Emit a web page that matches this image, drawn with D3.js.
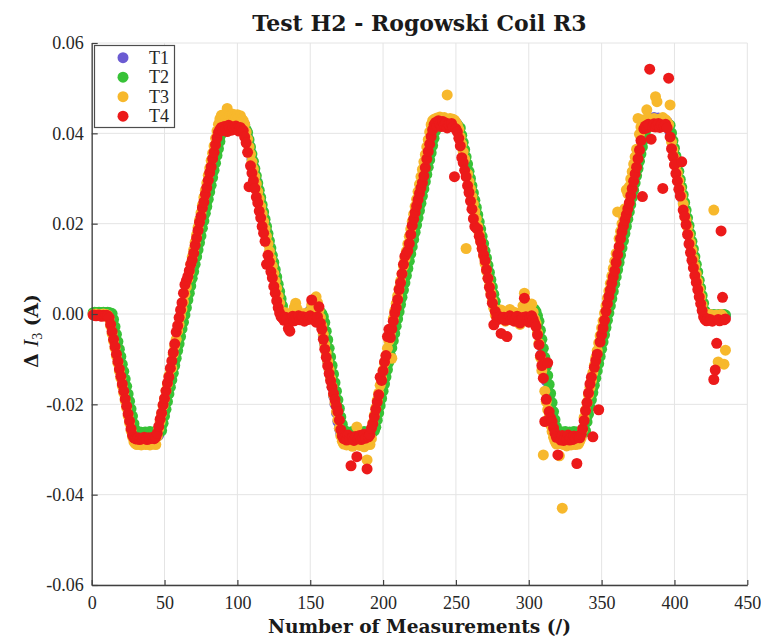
<!DOCTYPE html>
<html lang="en">
<head>
  <meta charset="UTF-8">
  <title>Test H2 - Rogowski Coil R3</title>
  <script src="https://d3js.org/d3.v7.min.js"></script>
  <style>
    body {
      margin: 0;
      padding: 0;
      background: #fff;
    }

    .tick text {
      font-family: "Liberation Serif", serif;
      font-size: 18px;
      fill: #262626;
    }

    .title, .axis-label {
      font-family: "DejaVu Serif", serif;
      font-weight: bold;
      fill: #1a1a1a;
    }

    .legend text {
      font-family: "Liberation Serif", serif;
      font-size: 18px;
      fill: #262626;
    }
  </style>
</head>
<body>
  <svg id="chart" width="761" height="642"></svg>

  <script>
    // Delta I3 per measurement, in mA (measurement 1 ... 435)
    const t1 = [
      0.1,0.2,0.1,0.0,0.2,0.1,0.1,0.2,0.0,0.1,
      0.2,0.1,-0.3,-1.2,-2.8,-4.5,-6.1,-7.8,-9.4,-11.1,
      -12.7,-14.4,-16.0,-17.7,-19.3,-21.0,-22.6,-24.3,-25.9,-27.0,
      -27.1,-26.9,-27.0,-27.2,-26.9,-27.1,-27.0,-26.8,-27.1,-27.0,
      -26.9,-27.2,-27.0,-26.9,-27.1,-26.8,-25.8,-24.2,-22.6,-21.0,
      -19.4,-17.8,-16.2,-14.6,-13.0,-11.4,-9.8,-8.2,-6.6,-5.0,
      -3.4,-1.8,-0.2,1.4,3.0,4.6,6.2,7.8,9.4,11.0,
      12.6,14.2,15.8,17.4,19.0,20.6,22.2,23.8,25.4,27.0,
      28.6,30.2,31.8,33.4,35.0,36.6,38.2,39.8,41.3,42.4,
      42.6,42.5,42.8,42.6,42.4,42.7,42.5,42.6,42.8,42.4,
      42.6,42.5,42.7,42.3,41.9,40.7,39.1,37.5,35.9,34.3,
      32.7,31.1,29.5,27.9,26.3,24.7,23.1,21.5,19.9,18.3,
      16.7,15.1,13.5,11.9,10.3,8.7,7.1,5.5,3.9,2.3,
      0.7,-0.4,-0.6,-0.5,-0.7,-0.4,-0.6,-0.5,-0.3,-0.6,
      -0.5,-0.4,-0.7,-0.5,-0.4,-0.6,-0.3,0.0,0.4,0.8,
      1.1,1.2,1.0,0.7,0.3,-0.2,-1.2,-2.9,-4.8,-6.7,
      -8.6,-10.5,-12.4,-14.3,-16.2,-18.1,-20.0,-21.9,-23.8,-25.4,
      -26.5,-27.0,-27.1,-27.0,-26.8,-27.2,-27.0,-26.9,-27.1,-27.3,
      -27.0,-26.8,-27.1,-27.0,-26.9,-27.2,-27.0,-26.8,-27.1,-27.0,
      -26.9,-26.6,-25.8,-25.1,-23.5,-21.9,-20.3,-18.7,-17.1,-15.5,
      -13.9,-12.3,-10.7,-9.1,-7.5,-5.9,-4.3,-2.7,-1.1,0.5,
      2.1,3.7,5.3,6.9,8.5,10.1,11.7,13.3,14.9,16.5,
      18.1,19.7,21.3,22.9,24.5,26.1,27.7,29.3,30.9,32.5,
      34.1,35.7,37.3,38.9,40.5,41.9,42.6,42.4,42.7,42.5,
      42.8,42.6,42.4,42.7,42.5,42.6,42.3,42.7,42.5,42.4,
      41.9,41.2,39.6,38.0,36.4,34.8,33.2,31.6,30.0,28.4,
      26.8,25.2,23.6,22.0,20.4,18.8,17.2,15.6,14.0,12.4,
      10.8,9.2,7.6,6.0,4.4,2.8,1.2,-0.2,-0.5,-0.4,
      -0.6,-0.5,-0.7,-0.4,-0.5,-0.6,-0.3,-0.5,-0.4,-0.6,
      -0.5,-0.4,-0.3,-0.2,0.0,0.3,0.5,0.8,1.0,1.1,
      1.0,0.7,0.2,-0.6,-1.4,-2.8,-4.8,-6.8,-8.8,-10.8,
      -12.8,-14.8,-16.8,-18.8,-20.8,-22.6,-24.3,-25.8,-26.8,-27.0,
      -27.2,-26.9,-27.1,-27.0,-26.8,-27.2,-27.0,-26.9,-27.1,-27.0,
      -26.8,-27.1,-27.2,-26.9,-27.0,-26.8,-26.5,-25.6,-23.8,-22.2,
      -20.6,-19.0,-17.4,-15.8,-14.2,-12.6,-11.0,-9.4,-7.8,-6.2,
      -4.6,-3.0,-1.4,0.2,1.8,3.4,5.0,6.6,8.2,9.8,
      11.4,13.0,14.6,16.2,17.8,19.4,21.0,22.6,24.2,25.8,
      27.4,29.0,30.6,32.2,33.8,35.4,37.0,38.6,40.2,41.8,
      42.9,43.2,43.4,43.1,43.3,43.5,43.2,43.0,43.4,43.1,
      42.9,43.2,43.0,42.8,42.5,42.0,40.3,38.6,36.9,35.2,
      33.4,31.7,30.0,28.3,26.6,24.9,23.2,21.4,19.7,18.0,
      16.3,14.6,12.9,11.1,9.4,7.7,6.0,4.3,2.6,0.9,
      -0.3,-0.5,-0.4,-0.6,-0.5,-0.4,-0.6,-0.5,-0.4,-0.5,
      -0.6,-0.4,-0.5,-0.4,-0.5
    ];

    const t2 = [
      0.3,0.4,0.3,0.2,0.4,0.3,0.3,0.4,0.2,0.3,
      0.4,0.3,0.2,0.1,-1.2,-2.8,-4.5,-6.1,-7.8,-9.4,
      -11.1,-12.7,-14.4,-16.0,-17.7,-19.3,-21.0,-22.6,-24.3,-25.6,
      -26.2,-26.3,-26.1,-26.2,-26.4,-26.2,-26.1,-26.3,-26.2,-26.0,
      -26.3,-26.2,-26.1,-26.3,-26.2,-26.0,-26.1,-25.8,-24.2,-22.6,
      -21.1,-19.4,-17.7,-16.2,-14.6,-13.1,-11.4,-9.8,-8.1,-6.6,
      -5.0,-3.3,-1.8,-0.2,1.4,3.1,4.6,6.2,7.9,9.4,
      11.0,12.7,14.2,15.8,17.3,19.0,20.6,22.3,23.8,25.4,
      27.0,28.5,30.2,31.8,33.4,35.1,36.6,38.2,39.8,41.2,
      41.8,42.0,41.9,42.1,42.0,41.8,42.2,42.0,41.9,42.1,
      41.8,42.0,42.1,41.9,41.6,40.8,40.2,38.6,37.0,35.4,
      33.8,32.2,30.6,29.0,27.4,25.8,24.2,22.6,21.0,19.4,
      17.8,16.2,14.6,13.0,11.4,9.8,8.2,6.6,5.0,3.4,
      1.8,0.4,-0.2,-0.4,-0.3,-0.5,-0.2,-0.4,-0.3,-0.1,
      -0.4,-0.3,-0.2,-0.5,-0.3,-0.2,-0.4,-0.1,0.2,0.6,
      1.0,1.3,1.5,1.4,1.2,0.9,0.4,0.1,-0.6,-1.9,
      -3.8,-5.7,-7.6,-9.5,-11.4,-13.3,-15.2,-17.1,-19.0,-20.9,
      -22.8,-24.4,-25.6,-26.2,-26.3,-26.1,-26.4,-26.2,-26.0,-26.3,
      -26.5,-26.2,-26.1,-26.4,-26.2,-26.3,-26.0,-26.2,-26.4,-26.1,
      -26.3,-26.2,-26.0,-25.9,-25.1,-23.5,-21.9,-20.3,-18.7,-17.1,
      -15.5,-13.9,-12.3,-10.7,-9.1,-7.5,-5.9,-4.3,-2.7,-1.1,
      0.5,2.1,3.7,5.3,6.9,8.5,10.1,11.7,13.3,14.9,
      16.5,18.1,19.7,21.3,22.9,24.5,26.1,27.7,29.3,30.9,
      32.5,34.1,35.7,37.3,38.9,40.5,41.6,42.0,41.9,42.2,
      42.0,41.8,42.1,42.3,42.0,41.9,42.1,42.0,41.8,42.2,
      41.9,41.4,41.2,39.6,38.0,36.4,34.8,33.2,31.6,30.0,
      28.4,26.8,25.2,23.6,22.0,20.4,18.8,17.2,15.6,14.0,
      12.4,10.8,9.2,7.6,6.0,4.4,2.8,1.2,0.0,-0.3,
      -0.2,-0.4,-0.3,-0.5,-0.2,-0.3,-0.4,-0.1,-0.3,-0.2,
      -0.4,-0.3,-0.2,-0.1,0.0,0.2,0.4,0.6,0.9,1.1,
      1.3,1.4,1.3,1.0,0.5,-0.4,-1.6,-3.6,-5.6,-7.6,
      -9.6,-11.6,-13.6,-15.6,-17.6,-19.6,-21.6,-23.4,-25.0,-26.0,
      -26.2,-26.4,-26.1,-26.3,-26.0,-26.2,-26.4,-26.1,-26.3,-26.2,
      -26.0,-26.3,-26.1,-26.4,-26.2,-26.3,-26.1,-26.2,-25.9,-23.9,
      -22.2,-20.6,-19.0,-17.4,-15.8,-14.2,-12.6,-11.0,-9.4,-7.8,
      -6.2,-4.6,-3.0,-1.4,0.2,1.8,3.4,5.0,6.6,8.2,
      9.8,11.4,13.0,14.6,16.2,17.8,19.4,21.0,22.6,24.2,
      25.8,27.4,29.0,30.6,32.2,33.8,35.4,37.0,38.6,40.2,
      41.5,42.0,42.2,41.9,42.1,42.3,42.0,41.8,42.2,42.1,
      41.9,42.0,42.2,41.8,42.1,42.0,41.8,40.1,38.4,36.7,
      35.0,33.3,31.6,29.8,28.1,26.4,24.7,23.0,21.3,19.6,
      17.8,16.1,14.4,12.7,11.0,9.3,7.5,5.8,4.1,2.4,
      0.7,-0.1,-0.2,-0.1,-0.3,-0.2,-0.1,-0.3,-0.2,-0.2,
      -0.1,-0.3,-0.2,-0.1,-0.2
    ];

    const t3 = [
      -0.1,-0.2,0.0,-0.1,-0.3,-0.2,-0.1,0.0,-0.2,-0.1,
      -0.3,-1.0,-2.6,-4.3,-6.0,-7.6,-9.3,-10.9,-12.6,-14.2,
      -15.9,-17.5,-19.2,-20.8,-22.5,-24.1,-25.8,-27.2,-28.3,-28.7,
      -28.9,-28.6,-28.8,-29.0,-28.7,-28.5,-28.9,-28.8,-28.6,-29.0,
      -28.7,-28.8,-28.5,-28.9,-27.1,-25.4,-23.8,-22.1,-20.3,-18.8,
      -17.0,-15.5,-13.7,-12.2,-11.9,-8.9,-7.1,-5.6,-3.8,-2.3,
      -0.5,1.1,2.7,4.4,6.0,7.7,9.3,11.0,12.6,14.2,
      15.9,17.5,19.2,20.8,22.4,24.1,25.8,27.4,29.0,30.7,
      32.3,34.0,35.6,37.2,38.9,40.5,42.0,43.2,44.0,43.5,
      43.8,43.1,45.5,43.6,43.9,43.3,44.2,43.7,43.4,44.1,
      43.6,43.9,43.2,42.8,42.0,40.3,38.7,37.0,35.4,33.7,
      32.1,30.4,28.8,27.1,25.5,23.8,22.2,20.5,18.9,17.2,
      15.6,13.9,12.3,10.6,9.0,7.3,5.7,4.0,2.4,0.7,
      -0.2,-0.5,0.3,-0.4,-1.5,-0.8,-0.3,0.2,1.4,2.4,
      1.1,-0.6,-0.2,-0.9,-0.4,0.1,-0.7,-0.3,-1.0,0.6,
      2.0,2.8,3.3,3.8,2.5,0.9,-0.8,-2.6,-4.5,-6.8,
      -8.6,-10.5,-12.3,-14.2,-16.0,-17.9,-19.7,-21.6,-23.4,-25.3,
      -27.0,-28.2,-28.8,-28.6,-29.0,-28.4,-28.9,-27.8,-29.3,-28.5,
      -28.4,-25.0,-28.7,-29.1,-28.2,-28.8,-29.4,-28.5,-32.3,-28.0,
      -28.9,-27.6,-24.1,-22.4,-20.8,-19.1,-17.5,-15.8,-14.2,-12.5,
      -10.9,-9.2,-7.6,-5.9,-4.3,-9.8,-1.0,0.7,2.3,4.0,
      5.6,7.3,8.9,10.6,12.2,13.9,15.5,17.2,18.8,20.5,
      22.1,23.8,25.4,27.1,28.7,30.4,32.0,33.7,35.3,37.0,
      38.6,40.3,41.9,42.8,43.1,42.6,43.4,42.9,43.6,42.8,
      43.2,43.5,42.7,48.5,43.0,43.3,42.6,43.1,42.9,42.4,
      41.8,40.9,39.2,37.6,35.9,34.3,14.5,31.0,29.3,27.7,
      26.0,24.4,22.7,21.1,19.4,17.8,16.1,14.5,12.8,11.2,
      9.5,7.9,6.2,4.6,2.9,1.3,-0.2,0.4,0.6,-0.8,
      0.9,0.3,-0.5,-1.6,-0.7,0.2,1.0,-0.3,-0.9,0.4,
      -1.2,-0.6,0.1,-2.3,-0.4,1.8,4.6,2.6,1.5,0.8,
      1.8,2.2,0.4,-1.1,-2.0,-4.1,-6.5,-9.6,-12.5,-31.2,
      -17.1,-19.4,-21.2,-22.8,-24.6,-26.0,-27.3,-28.2,-28.8,-28.5,
      -31.4,-28.7,-43.0,-28.9,-28.4,-29.2,-28.6,-28.8,-29.0,-28.3,
      -28.7,-28.9,-28.5,-28.8,-28.2,-27.4,-25.6,-22.9,-21.3,-19.6,
      -17.9,-16.3,-14.7,-13.0,-11.4,-9.7,-8.1,-6.4,-4.8,-3.1,
      -1.5,0.2,1.8,3.5,5.1,6.8,8.4,10.1,11.7,13.4,
      22.6,16.7,18.3,20.0,21.6,23.3,27.5,26.6,28.2,29.9,
      31.5,33.2,34.8,36.5,43.3,39.8,41.4,42.6,43.0,42.6,
      45.2,43.4,42.8,43.1,42.5,43.3,48.1,47.0,42.9,43.2,
      42.7,43.5,42.8,43.0,42.4,41.9,46.3,38.1,36.4,34.6,
      32.9,31.2,29.5,27.8,26.1,24.4,22.6,20.9,19.2,17.5,
      15.8,14.1,12.3,10.6,8.9,7.2,5.5,3.8,2.0,0.4,
      -0.3,-0.2,-0.4,-0.1,-0.3,-0.2,23.0,-0.4,-0.2,-10.6,
      -0.3,-0.1,-0.4,-11.1,-8.0
    ];

    const t4 = [
      -0.2,-0.3,-0.4,-0.3,-0.2,-0.4,-0.5,-0.3,-0.4,-0.3,
      -0.4,-0.8,-2.3,-3.9,-5.6,-7.2,-8.9,-10.5,-12.2,-13.8,
      -15.5,-17.1,-18.8,-20.4,-22.1,-23.7,-25.4,-26.8,-27.4,-27.6,
      -27.7,-27.4,-27.8,-27.5,-27.6,-27.3,-27.5,-27.8,-27.4,-27.6,
      -27.5,-27.3,-27.6,-27.2,-26.4,-24.9,-23.3,-21.9,-20.1,-18.7,
      -17.0,-15.3,-13.9,-12.0,-10.4,-8.5,-6.6,-4.0,-2.6,-0.8,
      0.9,2.5,4.6,6.5,7.4,8.3,9.6,11.0,12.0,13.5,
      15.2,16.8,18.5,20.3,21.6,23.5,24.8,26.5,28.0,29.6,
      31.3,32.6,34.4,35.8,37.5,39.0,40.2,40.8,41.3,40.6,
      41.5,41.0,40.4,41.8,41.2,40.7,41.4,40.9,41.6,41.1,
      40.5,41.3,40.8,40.6,39.2,37.9,35.8,28.2,32.8,31.2,
      29.5,27.8,25.9,24.6,22.8,21.3,19.4,17.9,16.1,11.0,
      13.0,11.5,9.4,8.0,6.1,4.6,2.9,1.4,0.2,-0.6,
      -0.9,-1.4,-0.7,-1.2,-3.2,-3.8,-1.0,-0.5,-1.5,-0.8,
      -1.1,-0.4,-1.3,-0.9,-0.6,-1.6,-1.0,-0.7,-1.2,-0.4,
      3.1,-0.9,-1.3,-1.8,-0.6,1.6,-2.0,-3.4,-5.6,-7.8,
      -9.6,-11.5,-13.2,-14.8,-16.2,-17.6,-19.0,-20.4,-21.6,-23.5,
      -25.6,-27.0,-27.6,-27.2,-27.9,-26.8,-27.7,-33.6,-27.4,-28.0,
      -27.1,-31.6,-27.6,-26.9,-27.8,-27.3,-26.6,-27.5,-34.3,-27.2,
      -26.7,-25.3,-24.3,-22.7,-21.1,-19.5,-17.9,-14.0,-14.7,-12.6,
      -10.6,-9.2,-5.0,-3.4,-5.2,-3.3,-1.6,0.2,1.4,3.2,
      5.4,6.9,8.9,11.0,12.8,13.4,14.0,15.6,17.6,19.6,
      21.0,22.5,23.9,25.3,26.7,27.9,29.1,30.6,32.4,34.3,
      36.0,37.6,39.3,40.8,41.9,42.4,41.6,42.8,42.1,41.5,
      42.6,41.9,42.3,41.2,42.0,41.7,42.2,41.4,30.4,41.0,
      40.3,38.9,37.2,34.6,33.5,31.8,30.4,28.4,26.9,25.0,
      23.2,21.1,19.4,19.0,18.8,17.2,16.0,14.5,13.1,11.8,
      9.8,7.9,5.9,4.2,2.4,-2.4,0.6,-0.8,-1.2,-0.6,
      -4.3,-1.0,-0.7,-1.4,-5.0,-0.9,-0.4,-1.3,-0.8,-1.6,
      -1.1,-0.5,-1.5,-2.0,-1.2,-0.8,3.5,-0.6,-1.4,-1.8,
      -0.9,-0.4,-1.2,-2.1,-2.8,-4.6,-6.8,-9.2,-11.4,-14.2,
      -23.8,-18.9,-10.8,-21.6,-23.0,-23.8,-25.2,-26.4,-27.3,-31.2,
      -27.5,-27.9,-26.9,-28.0,-27.3,-27.7,-26.8,-27.9,-27.4,-27.8,
      -27.0,-27.5,-33.1,-27.2,-27.4,-26.6,-25.4,-23.6,-21.4,-19.6,
      -17.5,-15.5,-14.0,-27.2,-11.8,-10.3,-8.9,-21.2,-6.2,-4.6,
      -3.1,-1.4,0.6,2.3,3.9,5.3,6.8,8.2,9.6,11.4,
      13.2,14.9,16.7,18.2,19.5,20.8,22.0,23.3,24.6,26.2,
      27.8,29.4,31.0,32.5,34.4,36.3,38.4,26.0,41.0,41.6,
      41.2,42.0,54.2,38.7,41.5,42.1,41.4,41.8,42.2,41.3,
      41.9,27.8,41.6,42.0,41.2,52.2,39.2,36.6,34.9,33.0,
      31.1,29.4,27.6,26.1,33.7,23.0,21.6,19.8,17.6,15.5,
      13.6,11.9,10.2,8.5,7.0,5.4,3.8,2.3,0.8,-0.6,
      -1.2,-1.5,-1.1,-1.4,-1.3,-1.6,-14.5,-12.4,-6.5,-1.2,
      -1.5,18.4,3.7,-1.3,-1.1
    ];

    const seriesNames = ["T1", "T2", "T3", "T4"];
    const seriesColors = ["#6b5bd2", "#37c237", "#f7b82c", "#ec1a1a"];
    const seriesValues = [t1, t2, t3, t4];

    const xTicks = [0, 50, 100, 150, 200, 250, 300, 350, 400, 450];
    const yTicks = [-0.06, -0.04, -0.02, 0.00, 0.02, 0.04, 0.06];

    const measurements = d3.range(1, t1.length + 1);

    const svg = d3.select("#chart");

    const x = d3.scaleLinear().domain([0, 450]).range([91.7, 747.3]);
    const y = d3.scaleLinear().domain([-0.06, 0.06]).range([585, 43]);

    // grid
    const grid = svg.append("g").attr("stroke", "#e4e4e4").attr("stroke-width", 1);
    grid.selectAll(".gx")
      .data(xTicks)
      .enter()
      .append("line")
      .attr("x1", d => x(d))
      .attr("x2", d => x(d))
      .attr("y1", y(-0.06))
      .attr("y2", y(0.06));
    grid.selectAll(".gy")
      .data(yTicks)
      .enter()
      .append("line")
      .attr("x1", x(0))
      .attr("x2", x(450))
      .attr("y1", d => y(d))
      .attr("y2", d => y(d));

    // scatter points, T1 first so T4 sits on top
    seriesValues.forEach((vals, k) => {
      svg.append("g")
        .selectAll("circle")
        .data(vals)
        .enter()
        .append("circle")
        .attr("cx", (d, i) => x(measurements[i]))
        .attr("cy", d => y(d / 1000))
        .attr("r", 5.5)
        .attr("fill", seriesColors[k]);
    });

    // axes
    const yAxis = d3.axisLeft(y)
      .tickValues(yTicks)
      .tickFormat(d => d.toFixed(2))
      .tickSizeInner(-6)
      .tickSizeOuter(0)
      .tickPadding(8);

    const xAxis = d3.axisBottom(x)
      .tickValues(xTicks)
      .tickFormat(d => d)
      .tickSizeInner(-5)
      .tickSizeOuter(0)
      .tickPadding(11);

    const gy = svg.append("g").attr("transform", `translate(${x(0)},0)`).call(yAxis);
    const gx = svg.append("g").attr("transform", `translate(0,${y(-0.06)})`).call(xAxis);

    [gx, gy].forEach(g => {
      g.select(".domain").attr("stroke", "#404040").attr("stroke-width", 1.3);
      g.selectAll(".tick line").attr("stroke", "#404040").attr("stroke-width", 1.2);
    });

    // title and labels
    svg.append("text")
      .attr("class", "title")
      .attr("x", (x(0) + x(450)) / 2)
      .attr("y", 30.5)
      .attr("text-anchor", "middle")
      .style("font-size", "22px")
      .text("Test H2 - Rogowski Coil R3");

    svg.append("text")
      .attr("class", "axis-label")
      .attr("x", (x(0) + x(450)) / 2)
      .attr("y", 633)
      .attr("text-anchor", "middle")
      .style("font-size", "18.6px")
      .text("Number of Measurements (/)");

    const yl = svg.append("text")
      .attr("class", "axis-label")
      .attr("transform", "translate(38,331) rotate(-90)")
      .attr("text-anchor", "middle")
      .style("font-size", "18.6px");
    yl.append("tspan").text("\u0394 ");
    yl.append("tspan").style("font-style", "italic").style("font-weight", "normal")
      .style("font-family", "'Liberation Serif', serif").style("font-size", "21px").text("I");
    yl.append("tspan").attr("dy", 4).style("font-weight", "normal")
      .style("font-family", "'Liberation Serif', serif").style("font-size", "14px").text("3");
    yl.append("tspan").attr("dy", -4).text(" (A)");

    // legend
    const legend = svg.append("g").attr("class", "legend");
    legend.append("rect")
      .attr("x", 94.5)
      .attr("y", 45.5)
      .attr("width", 80)
      .attr("height", 82)
      .attr("fill", "#fff")
      .attr("stroke", "#4d4d4d")
      .attr("stroke-width", 1.2);

    const items = legend.selectAll(".item")
      .data(seriesNames)
      .enter()
      .append("g")
      .attr("transform", (d, i) => `translate(0,${57.7 + i * 19.5})`);
    items.append("circle")
      .attr("cx", 123)
      .attr("cy", 0)
      .attr("r", 5.5)
      .attr("fill", (d, i) => seriesColors[i]);
    items.append("text")
      .attr("x", 149)
      .attr("y", 6)
      .text(d => d);
  </script>
</body>
</html>
